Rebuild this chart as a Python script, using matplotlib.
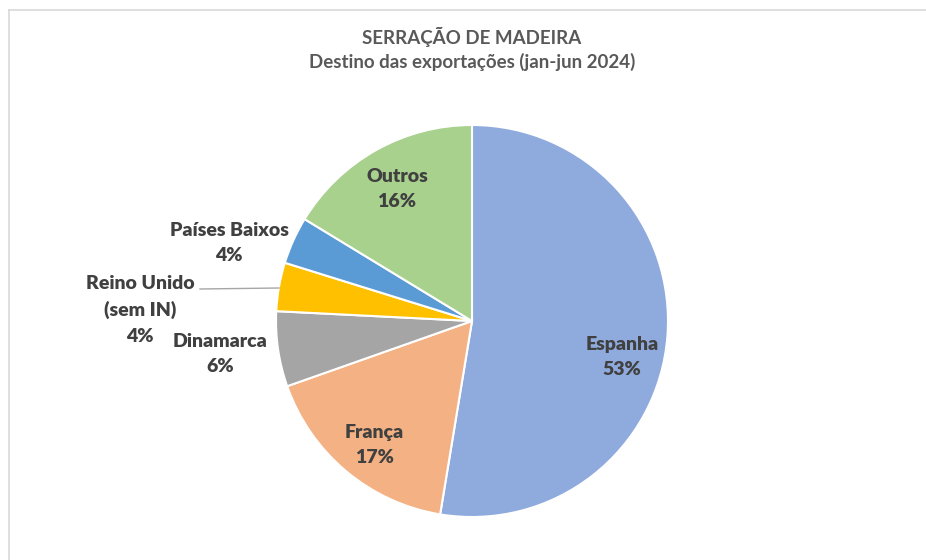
import matplotlib.pyplot as plt
from matplotlib.lines import Line2D

categories = ["Espanha", "França", "Dinamarca", "Reino Unido\n(sem IN)", "Países Baixos", "Outros"]
values = [52.6, 17.0, 6.2, 4.0, 3.9, 16.3]
pct_labels = ["53%", "17%", "6%", "4%", "4%", "16%"]
colors = ["#8FAADC", "#F4B183", "#A5A5A5", "#FFC000", "#5B9BD5", "#A9D18E"]

W, H = 926, 560
fig = plt.figure(figsize=(W / 100, H / 100), dpi=100)
ax = fig.add_axes([0, 0, 1, 1])

cx, cy, r = 472, H - 321, 196
ax.pie(values, colors=colors, startangle=90, counterclock=False,
       center=(cx, cy), radius=r, frame=True,
       wedgeprops=dict(edgecolor="white", linewidth=1.5))
ax.set_xlim(0, W)
ax.set_ylim(0, H)
ax.set_aspect("equal")
ax.axis("off")

font = ["Lato", "DejaVu Sans"]
txtc = "#404040"
label_pos = [(622, 357), (374, 445), (220, 354), (140, 310), (229, 243), (397, 189)]
for cat, p, (x, y) in zip(categories, pct_labels, label_pos):
    ax.text(x, H - y, f"{cat}\n{p}", ha="center", va="center", fontsize=14,
            fontweight="heavy", color=txtc, family=font, linespacing=1.6)

# leader line for Reino Unido
ax.add_line(Line2D([200, 279], [H - 289, H - 288], color="#A6A6A6", lw=1))

fig.text(472 / W, 1 - 37 / H, "SERRAÇÃO DE MADEIRA", ha="center", va="center",
         fontsize=13.5, fontweight="bold", color="#595959", family=font)
fig.text(472 / W, 1 - 62 / H, "Destino das exportações (jan-jun 2024)", ha="center",
         va="center", fontsize=13.5, fontweight="bold", color="#595959", family=font)

# chart border
fig.add_artist(Line2D([9 / W, 1], [1 - 10 / H, 1 - 10 / H], transform=fig.transFigure,
                      color="#D9D9D9", lw=1.2))
fig.add_artist(Line2D([9 / W, 9 / W], [0, 1 - 10 / H], transform=fig.transFigure,
                      color="#D9D9D9", lw=1.2))

fig.savefig("out.png", dpi=100, facecolor="white")
